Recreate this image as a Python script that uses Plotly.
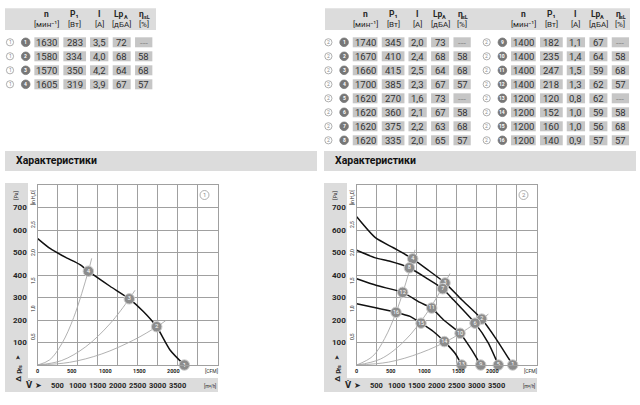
import plotly.graph_objects as go

W, H = 640, 405
def X(px): return px / W
def Y(py): return 1 - py / H

FONT = "Roboto, Liberation Sans, Arial, sans-serif"
SYM = "DejaVu Sans, sans-serif"
TXT = "#262626"
CELL = "#c6c6c6"
BAND = "#dcdcdc"
GRID = "#a0a0a0"
MARK = "#8c8c8c"

# ---------------- data : tables ----------------
rpm1 = [1630, 1580, 1570, 1605]
pw1 = [283, 334, 350, 319]
cur1 = ["3,5", "4,0", "4,2", "3,9"]
lpa1 = [72, 68, 64, 67]
eff1 = ["---", "58", "68", "57"]

rpm2 = [1740, 1670, 1660, 1700, 1620, 1620, 1620, 1620,
        1400, 1400, 1400, 1400, 1200, 1200, 1200, 1200]
pw2 = [345, 410, 415, 385, 270, 360, 375, 335,
       182, 235, 247, 218, 120, 152, 160, 140]
cur2 = ["2,0", "2,4", "2,5", "2,3", "1,6", "2,1", "2,2", "2,0",
        "1,1", "1,4", "1,5", "1,3", "0,8", "1,0", "1,0", "0,9"]
lpa2 = [73, 68, 64, 67, 73, 67, 63, 65, 67, 64, 59, 62, 62, 59, 56, 57]
eff2 = ["---", "58", "68", "57", "---", "58", "68", "57",
        "---", "58", "68", "57", "---", "58", "68", "57"]

# header: (main text, subscript text)
head1 = [("n", ""), ("P₁", ""), ("I", ""), ("Lp", "A"), ("η", "sL")]
head2 = ["[мин⁻¹]", "[Вт]", "[A]", "[дБА]", "[%]"]

# ---------------- data : chart 1 (m3/h, Pa) ----------------
c1_V = [0, 308, 700, 1057, 1266, 1808, 2290, 2641, 2975, 3308, 3666]
c1_P = [562, 518, 478, 446, 417, 350, 294, 238, 170, 67, 0]
c1_mark_V = [3666, 2975, 2290, 1266]
c1_mark_P = [0, 170, 294, 417]
c1_mark_id = ["1", "2", "3", "4"]
c1_sys = [
    ([0, 300, 600, 900, 1266, 1350], [0, 23, 94, 211, 417, 474]),
    ([0, 600, 1200, 1800, 2290, 2432], [0, 20, 81, 182, 294, 332]),
    ([0, 800, 1600, 2400, 2975, 3200], [0, 12, 49, 111, 170, 197]),
]

# ---------------- data : chart 2 ----------------
c2_curves = [
    ([0, 467, 917, 1400, 1800, 2208, 2625, 3125, 3500, 3900],
     [659, 566, 521, 472, 420, 365, 290, 204, 112, 0]),
    ([0, 467, 833, 1317, 1750, 2150, 2417, 2958, 3292, 3540],
     [510, 476, 461, 432, 385, 339, 290, 186, 97, 0]),
    ([0, 500, 1150, 1583, 1875, 2167, 2583, 2875, 3100],
     [383, 353, 323, 278, 253, 201, 141, 67, 0]),
    ([0, 500, 983, 1333, 1608, 1917, 2192, 2458, 2625],
     [272, 253, 234, 216, 186, 149, 104, 52, 0]),
]
c2_mark_V = [3900, 3125, 2208, 1400, 3540, 2958, 2150, 1317,
             3100, 2583, 1875, 1150, 2625, 2192, 1608, 983]
c2_mark_P = [0, 204, 365, 472, 0, 186, 339, 432,
             0, 141, 253, 323, 0, 104, 186, 234]
c2_mark_id = [str(i) for i in range(1, 17)]
c2_sys = [
    ([0, 400, 700, 1000, 1300, 1458], [0, 39, 118, 241, 408, 512]),
    ([0, 600, 1200, 1800, 2333], [0, 27, 108, 243, 407]),
    ([0, 800, 1600, 2400, 3292], [0, 13, 54, 120, 226]),
]

# ---------------- ticks ----------------
pa_ticks = [100, 200, 300, 400, 500, 600, 700]
inh2o_ticks = [0.5, 1.0, 1.5, 2.0, 2.5]
inh2o_labels = ["0,5", "1,0", "1,5", "2,0", "2,5"]
cfm_ticks = [0, 500, 1000, 1500, 2000]
m3h_ticks = [500, 1000, 1500, 2000, 2500, 3000, 3500]
PA_PER_INH2O = 249.09
M3H_PER_CFM = 1.699

fig = go.Figure()
shapes, ann = [], []


def text(x, y, s, size=9, color=TXT, bold=False, angle=0, xanchor="center",
         xref="paper", yref="paper", family=FONT):
    if bold:
        s = "<b>" + s + "</b>"
    ann.append(dict(x=x, y=y, xref=xref, yref=yref, text=s, showarrow=False,
                    font=dict(family=family, size=size, color=color),
                    textangle=angle, xanchor=xanchor, yanchor="middle",
                    borderpad=0))


def rect(x0, y0, x1, y1, color, layer="below"):
    shapes.append(dict(type="rect", xref="paper", yref="paper",
                       x0=X(x0), x1=X(x1), y0=Y(y1), y1=Y(y0),
                       fillcolor=color, line=dict(width=0), layer=layer))


def circle(cx, cy, r, fill, line):
    shapes.append(dict(type="circle", xref="paper", yref="paper",
                       x0=X(cx - r), x1=X(cx + r), y0=Y(cy + r), y1=Y(cy - r),
                       fillcolor=fill, line=dict(color=line, width=0.8),
                       layer="above"))


COLS = [46.7, 74.7, 99.2, 121.7, 143.7]
WIDS = [24.7, 22.7, 18.3, 18.0, 17.3]


def table(ox, chart_no, start_id, rpm, pw, cur, lpa, eff):
    for i in range(len(rpm)):
        y = 42.3 + 14 * i
        circle(ox + 10, y, 3.6, "white", "#9a9a9a")
        text(X(ox + 10), Y(y), str(chart_no), size=5, color="#8a8a8a")
        circle(ox + 25.7, y, 4.3, "#777777", "#777777")
        text(X(ox + 25.7), Y(y), str(start_id + i), size=5, color="white", bold=True)
        vals = [str(rpm[i]), str(pw[i]), cur[i], str(lpa[i]), eff[i]]
        for c, w, v in zip(COLS, WIDS, vals):
            rect(ox + c - w / 2, y - 5, ox + c + w / 2, y + 5, CELL)
            text(X(ox + c), Y(y + 0.3), v, size=9.5,
                 color="#8a8a8a" if v == "---" else "#333333")


def table_head(ox):
    for c, (h1, sub), h2 in zip(COLS, head1, head2):
        if sub == "A":
            text(X(ox + c - 2.5), Y(14), h1, size=8.5, bold=True)
            text(X(ox + c + 4), Y(16.5), sub, size=5.5, bold=True)
        elif sub:
            text(X(ox + c - 2), Y(14), h1, size=8.5, bold=True)
            text(X(ox + c + 3), Y(16.5), sub, size=5.5, bold=True)
        else:
            text(X(ox + c), Y(14), h1, size=8.5, bold=True)
        text(X(ox + c), Y(24.5), h2, size=8)


# tables
rect(5, 8.3, 156, 30, BAND)
table_head(0)
table(0, 1, 1, rpm1, pw1, cur1, lpa1, eff1)

rect(325, 8.3, 630, 30, BAND)
table_head(318.4)
table_head(476.7)
table(318.4, 2, 1, rpm2[:8], pw2[:8], cur2[:8], lpa2[:8], eff2[:8])
table(476.7, 2, 9, rpm2[8:], pw2[8:], cur2[8:], lpa2[8:], eff2[8:])


def chart(ox, xa, ya, num, hx1):
    # section header
    rect(ox - 32.7, 151, hx1, 171, BAND)
    text(X(ox - 22.7), Y(161), "Характеристики", size=10.5, bold=True,
         xanchor="left", color="#111111")
    # gray strips
    rect(ox - 32.7, 183, ox - 9.7, 392, BAND)
    rect(ox - 32.7, 378, ox + 180.3, 392, BAND)
    # Pa labels
    for v in pa_ticks:
        text(X(ox - 18), v, str(v), size=8, bold=True, yref=ya)
    text(X(ox - 22), Y(195), "[Pa]", size=5, angle=-90)
    # inH2O labels
    for v, lab in zip(inh2o_ticks, inh2o_labels):
        text(X(ox - 4.7), v * PA_PER_INH2O, lab, size=5, angle=-90, yref=ya)
    text(X(ox - 4.7), Y(198), "[in H₂O]", size=4.5, angle=-90)
    # CFM labels
    for v in cfm_ticks:
        text(v * M3H_PER_CFM, Y(370.5), str(v), size=5.5, bold=True, xref=xa)
    text(X(ox + 173.5), Y(370.5), "[CFM]", size=5)
    # m3/h labels
    for v in m3h_ticks:
        text(v, Y(385), str(v), size=7.5, bold=True, xref=xa)
    text(X(ox + 172.5), Y(385.5), "[m³/h]", size=4.5)
    text(X(ox - 4), Y(385), "V̇ ➤", size=8, bold=True, family=SYM)
    text(X(ox - 20), Y(375), "Δ p", size=8, angle=-90, bold=True)
    text(X(ox - 18.3), Y(367.5), "fs", size=5.5, angle=-90, bold=True)
    text(X(ox - 20), Y(357.5), "➤", size=6.5, angle=-90, family=SYM)
    # chart number
    circle(ox + 166.8, 195, 4.5, "white", "#9a9a9a")
    text(X(ox + 166.8), Y(195), str(num), size=6, color="#8a8a8a")


chart(37.7, "x", "y", 1, 317)
chart(356.7, "x2", "y2", 2, 636)

# traces chart 1
for sv, sp in c1_sys:
    fig.add_trace(go.Scatter(x=sv, y=sp, mode="lines", line=dict(color="#a8a8a8", width=0.9,
                  shape="spline"), xaxis="x", yaxis="y", hoverinfo="skip"))
fig.add_trace(go.Scatter(x=c1_V, y=c1_P, mode="lines",
                         line=dict(color="#111111", width=1.5, shape="spline", smoothing=0.6),
                         xaxis="x", yaxis="y"))
fig.add_trace(go.Scatter(x=c1_mark_V, y=c1_mark_P, mode="markers+text", text=c1_mark_id,
                         textposition="middle center",
                         textfont=dict(family=FONT, size=6, color="white"),
                         marker=dict(size=10.5, color=MARK, line=dict(color="#cfcfcf", width=1)),
                         cliponaxis=False, xaxis="x", yaxis="y"))

# traces chart 2
for sv, sp in c2_sys:
    fig.add_trace(go.Scatter(x=sv, y=sp, mode="lines", line=dict(color="#a8a8a8", width=0.9,
                  shape="spline"), xaxis="x2", yaxis="y2", hoverinfo="skip"))
for cv, cp in c2_curves:
    fig.add_trace(go.Scatter(x=cv, y=cp, mode="lines",
                             line=dict(color="#111111", width=1.5, shape="spline", smoothing=0.6),
                             xaxis="x2", yaxis="y2"))
fig.add_trace(go.Scatter(x=c2_mark_V, y=c2_mark_P, mode="markers+text", text=c2_mark_id,
                         textposition="middle center",
                         textfont=dict(family=FONT, size=5.5, color="white"),
                         marker=dict(size=10.5, color=MARK, line=dict(color="#cfcfcf", width=1)),
                         cliponaxis=False, xaxis="x2", yaxis="y2"))

ax_common = dict(showgrid=True, gridcolor=GRID, gridwidth=0.8, zeroline=False,
                 showticklabels=False, ticks="", showline=True, linecolor=GRID,
                 linewidth=0.8, mirror=True, fixedrange=True)
fig.update_layout(
    width=W, height=H, margin=dict(l=0, r=0, t=0, b=0),
    paper_bgcolor="white", plot_bgcolor="white", showlegend=False,
    xaxis=dict(domain=[X(37.7), X(217.7)], range=[0, 4500], dtick=500, tick0=0,
               anchor="y", **ax_common),
    yaxis=dict(domain=[Y(365), Y(185)], range=[0, 800], dtick=100, tick0=0,
               anchor="x", **ax_common),
    xaxis2=dict(domain=[X(356.7), X(536.7)], range=[0, 4500], dtick=500, tick0=0,
                anchor="y2", **ax_common),
    yaxis2=dict(domain=[Y(365), Y(185)], range=[0, 800], dtick=100, tick0=0,
                anchor="x2", **ax_common),
    shapes=shapes, annotations=ann,
)

fig.write_html("out.html")
